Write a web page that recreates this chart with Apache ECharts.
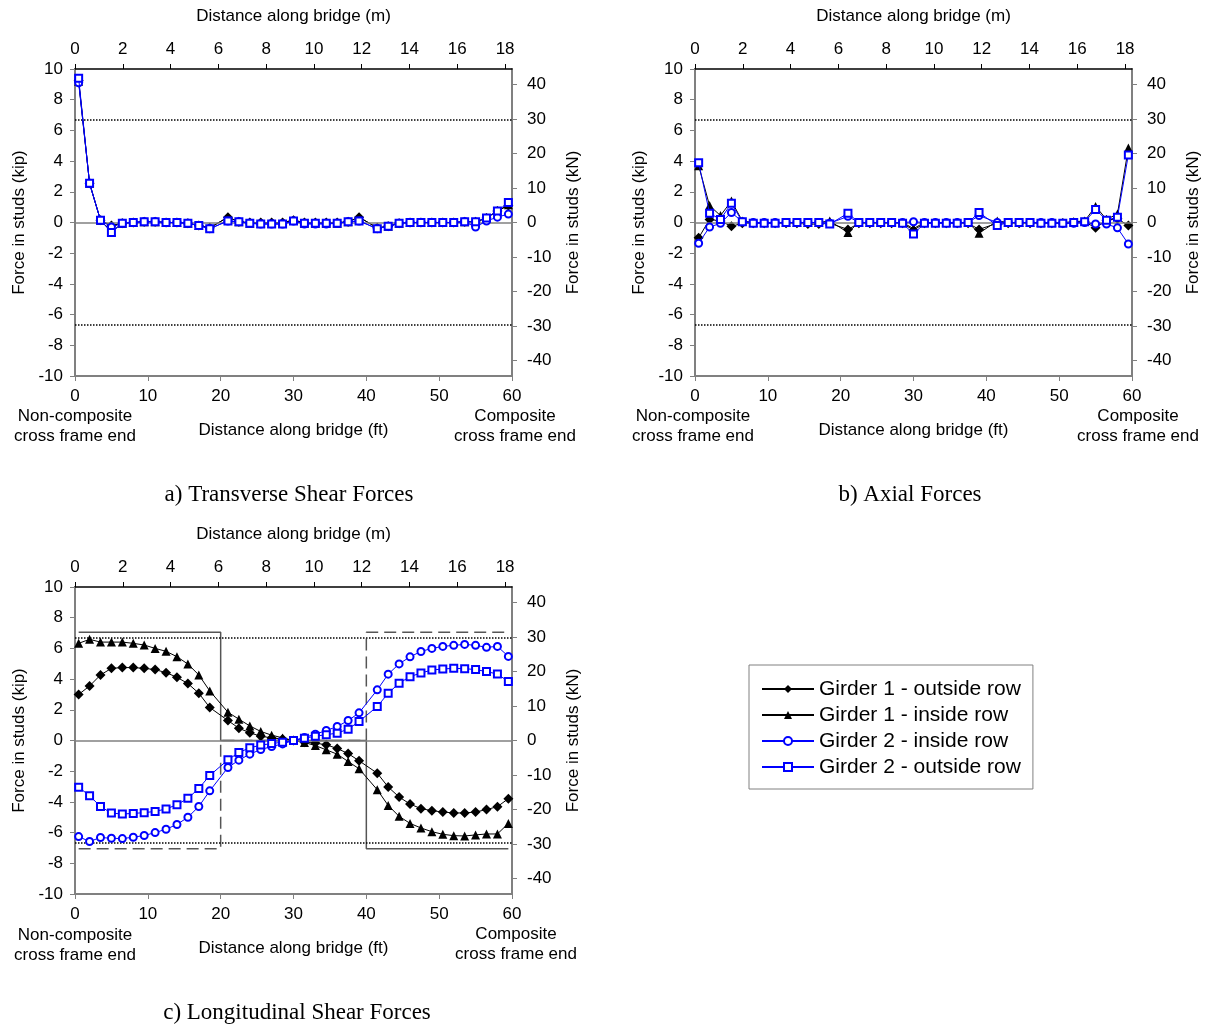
<!DOCTYPE html>
<html>
<head>
<meta charset="utf-8">
<title>Stud forces along bridge</title>
<script src="https://cdn.jsdelivr.net/npm/echarts@6/dist/echarts.min.js"></script>
<style>
  html, body { margin: 0; padding: 0; background: #fff; }
  #chart { width: 1209px; height: 1028px; }
</style>
</head>
<body>
<div id="chart"></div>
<script>
// stud locations (ft) - same for all three panels
const stations = [0.5, 2, 3.5, 5, 6.5, 8, 9.5, 11, 12.5, 14, 15.5, 17, 18.5,
  21, 22.5, 24, 25.5, 27, 28.5, 30, 31.5, 33, 34.5, 36, 37.5, 39,
  41.5, 43, 44.5, 46, 47.5, 49, 50.5, 52, 53.5, 55, 56.5, 58, 59.5];

const seriesNames = ["Girder 1 - outside row", "Girder 1 - inside row",
  "Girder 2 - inside row", "Girder 2 - outside row"];

// a) transverse shear (kip)
const transG1Out = [9.25, 2.55, 0.15, -0.2, -0.05, 0, 0.05, 0.05, 0, 0, -0.05, -0.2, -0.35,
  0.35, 0.05, 0, 0, 0, 0, 0.15, 0, 0, 0, 0, 0.05, 0.35,
  -0.35, -0.25, -0.05, 0, 0, 0, 0, 0, 0.05, 0.05, 0.3, 0.75, 1.1];
const transG1In = [9.2, 2.55, 0.15, -0.6, -0.05, 0, 0.05, 0.05, 0, 0, -0.05, -0.2, -0.35,
  0.35, 0.05, -0.05, -0.05, -0.05, -0.05, 0.15, -0.05, -0.05, -0.05, -0.05, 0.05, 0.35,
  -0.35, -0.25, -0.05, 0, 0, 0, 0, 0, 0.05, 0, 0.3, 0.75, 1.15];
const transG2In = [9.1, 2.55, 0.15, -0.3, -0.05, 0, 0.05, 0.05, 0, 0, -0.05, -0.2, -0.4,
  0.1, 0.05, -0.05, -0.1, -0.1, -0.1, 0.1, -0.1, -0.1, -0.1, -0.05, 0.05, 0.1,
  -0.4, -0.25, -0.05, 0, 0, 0, 0, 0, 0.05, -0.3, 0.1, 0.35, 0.55];
const transG2Out = [9.4, 2.55, 0.15, -0.65, -0.05, 0, 0.05, 0.05, 0, 0, -0.05, -0.2, -0.4,
  0.1, 0.05, -0.05, -0.1, -0.1, -0.1, 0.1, -0.05, -0.05, -0.05, -0.05, 0.05, 0.1,
  -0.4, -0.25, -0.05, 0, 0, 0, 0, 0, 0.05, 0.05, 0.3, 0.75, 1.3];

// b) axial (kip)
const axialG1Out = [-1.0, 0.2, 0.1, -0.25, -0.05, -0.05, -0.05, -0.05, -0.05, -0.05, -0.1, -0.1, -0.05,
  -0.45, -0.05, -0.05, -0.05, -0.05, -0.05, -0.5, -0.05, -0.05, -0.05, -0.05, -0.05, -0.45,
  -0.05, -0.05, -0.05, -0.05, -0.05, -0.05, -0.05, 0, 0.05, -0.35, 0.15, 0.25, -0.2];
const axialG1In = [3.7, 1.1, 0.45, 1.4, 0.1, 0, 0, 0, 0, 0, 0, 0, 0.1,
  -0.65, 0, 0, 0, 0, 0, -0.4, 0, 0, 0, 0, 0, -0.7,
  0.1, 0, 0, 0, 0, 0, 0, 0.05, 0.1, 1.05, 0.2, 0.55, 4.85];
const axialG2In = [-1.35, -0.3, -0.05, 0.65, 0.05, 0, 0, 0, 0, 0, 0, 0, -0.05,
  0.4, 0, 0, 0, 0, 0, 0.05, 0, 0, 0, 0, 0, 0.45,
  0, 0, 0, 0, 0, 0, -0.05, -0.05, 0, -0.1, -0.1, -0.35, -1.4];
const axialG2Out = [3.9, 0.6, 0.2, 1.25, 0.05, -0.05, -0.05, -0.05, 0, 0, 0, 0, -0.1,
  0.6, 0, 0, 0, 0, -0.05, -0.75, -0.05, -0.05, -0.05, -0.05, 0, 0.65,
  -0.2, 0, 0, 0, -0.05, -0.05, -0.05, 0, 0.05, 0.85, 0.15, 0.35, 4.4];

// c) longitudinal shear (kip)
const longG1Out = [3.0, 3.55, 4.27, 4.7, 4.75, 4.75, 4.7, 4.62, 4.42, 4.12, 3.71, 3.08, 2.15,
  1.3, 0.8, 0.5, 0.28, 0.17, 0.09, 0, -0.11, -0.17, -0.28, -0.52, -0.85, -1.32,
  -2.13, -3.03, -3.68, -4.14, -4.44, -4.57, -4.66, -4.72, -4.72, -4.66, -4.5, -4.31, -3.79];
const longG1In = [6.33, 6.59, 6.41, 6.41, 6.41, 6.33, 6.22, 6.0, 5.81, 5.46, 4.98, 4.27, 3.23,
  1.84, 1.39, 0.95, 0.59, 0.35, 0.17, 0, -0.13, -0.33, -0.61, -0.89, -1.37, -1.84,
  -3.21, -4.23, -4.94, -5.4, -5.7, -5.94, -6.11, -6.2, -6.22, -6.15, -6.09, -6.09, -5.4];
const longG2In = [-6.26, -6.58, -6.32, -6.37, -6.39, -6.3, -6.19, -6.0, -5.78, -5.47, -5.0, -4.3, -3.28,
  -1.76, -1.28, -0.89, -0.59, -0.39, -0.22, 0, 0.2, 0.41, 0.65, 0.91, 1.3, 1.8,
  3.3, 4.32, 4.99, 5.45, 5.8, 6.0, 6.13, 6.2, 6.26, 6.2, 6.07, 6.13, 5.48];
const longG2Out = [-3.04, -3.6, -4.3, -4.73, -4.79, -4.75, -4.7, -4.62, -4.46, -4.18, -3.77, -3.12, -2.28,
  -1.26, -0.78, -0.48, -0.3, -0.2, -0.11, 0, 0.15, 0.28, 0.38, 0.48, 0.74, 1.24,
  2.21, 3.08, 3.73, 4.16, 4.4, 4.59, 4.66, 4.7, 4.68, 4.62, 4.49, 4.33, 3.84];

// boxes drawn on panel c (ft, kip)
const boxSolid = [[0.5, 7.05], [20, 7.05], [20, 0], [40, 0], [40, -7.05], [59.5, -7.05]];
const boxDashed = [[0.5, -7.05], [20, -7.05], [20, 0], [40, 0], [40, 7.05], [59.5, 7.05]];

// capacity limit (kip) and tick values
const limitKip = 6.67;
const meterTicks = [0, 2, 4, 6, 8, 10, 12, 14, 16, 18];
const kNTicks = [-40, -30, -20, -10, 0, 10, 20, 30, 40];

const KIP_TO_KN = 4.448222;
const FT_TO_M = 0.3048;

const FONT = "'Liberation Sans', Arial, sans-serif";
const GRAY = "#808080";

const grids = [
  { left: 75, top: 69, width: 437, height: 307 },
  { left: 695, top: 69, width: 437, height: 307 },
  { left: 75, top: 587, width: 437, height: 307 },
];

const styles = [
  { color: "#000", symbol: "diamond", symbolSize: 10 },
  { color: "#000", symbol: "triangle", symbolSize: 9 },
  { color: "#0000ff", symbol: "emptyCircle", symbolSize: 7 },
  { color: "#0000ff", symbol: "emptyRect", symbolSize: 7 },
];

const panels = [
  [transG1Out, transG1In, transG2In, transG2Out],
  [axialG1Out, axialG1In, axialG2In, axialG2Out],
  [longG1Out, longG1In, longG2In, longG2Out],
];

const labelStyle = { color: "#000", fontSize: 17, fontFamily: FONT };

let xAxes = [];
let yAxes = [];
let series = [];

grids.forEach((g, i) => {
  xAxes.push({
    type: "value", gridIndex: i, position: "bottom",
    min: 0, max: 60, interval: 10,
    name: "Distance along bridge (ft)", nameLocation: "middle", nameGap: 46,
    nameTextStyle: labelStyle,
    axisLine: { onZero: false, lineStyle: { color: GRAY, width: 2 } },
    axisTick: { length: 5, lineStyle: { color: GRAY } },
    axisLabel: Object.assign({ margin: 12 }, labelStyle),
    splitLine: { show: false },
  });
  xAxes.push({
    type: "value", gridIndex: i, position: "top",
    min: 0, max: 60 * FT_TO_M,
    name: "Distance along bridge (m)", nameLocation: "middle", nameGap: 44,
    nameTextStyle: labelStyle,
    axisLine: { onZero: false, lineStyle: { color: "#000", width: 1.5 } },
    axisTick: { length: 5, customValues: meterTicks, lineStyle: { color: "#000" } },
    axisLabel: Object.assign({ margin: 11, customValues: meterTicks }, labelStyle),
    splitLine: { show: false },
  });
  yAxes.push({
    type: "value", gridIndex: i, position: "left",
    min: -10, max: 10, interval: 2,
    name: "Force in studs (kip)", nameLocation: "middle", nameGap: 47,
    nameTextStyle: labelStyle,
    axisLine: { onZero: false, lineStyle: { color: GRAY, width: 2 } },
    axisTick: { length: 5, lineStyle: { color: GRAY } },
    axisLabel: Object.assign({ margin: 12 }, labelStyle),
    splitLine: { show: false },
  });
  yAxes.push({
    type: "value", gridIndex: i, position: "right",
    min: -10 * KIP_TO_KN, max: 10 * KIP_TO_KN,
    name: "Force in studs (kN)", nameLocation: "middle", nameGap: 53,
    nameTextStyle: labelStyle,
    axisLine: { onZero: false, lineStyle: { color: GRAY, width: 2 } },
    axisTick: { length: 5, customValues: kNTicks, lineStyle: { color: GRAY } },
    axisLabel: Object.assign({ margin: 15, customValues: kNTicks }, labelStyle),
    splitLine: { show: false },
  });

  panels[i].forEach((vals, k) => {
    const s = styles[k];
    const item = {
      name: seriesNames[k],
      type: "line",
      xAxisIndex: 2 * i, yAxisIndex: 2 * i,
      data: stations.map((x, j) => [x, vals[j]]),
      symbol: s.symbol, symbolSize: s.symbolSize,
      itemStyle: { color: s.color, borderWidth: 1 },
      lineStyle: { color: s.color, width: 1 },
      z: 3 + k,
    };
    if (k === 0) {
      item.markLine = {
        silent: true, symbol: ["none", "none"], label: { show: false },
        lineStyle: { color: "#000", type: "dotted", width: 1.5 },
        data: [
          { yAxis: limitKip },
          { yAxis: -limitKip },
          { yAxis: 0, lineStyle: { color: GRAY, type: "solid", width: 1.5 } },
        ],
      };
    }
    series.push(item);
  });
});

// boxes on panel c
series.push({
  name: "box-solid", type: "line", xAxisIndex: 4, yAxisIndex: 4,
  data: boxSolid, symbol: "none",
  lineStyle: { color: "#555", width: 1.5 }, z: 2,
});
series.push({
  name: "box-dashed", type: "line", xAxisIndex: 4, yAxisIndex: 4,
  data: boxDashed, symbol: "none",
  lineStyle: { color: "#555", width: 1.5, type: [12, 6] }, z: 2,
});

const smallText = (text, x, y) => ({
  type: "text", x: x, y: y,
  style: { text: text, font: "17px " + FONT, fill: "#000", align: "center", verticalAlign: "middle", lineHeight: 20 },
});
const caption = (text, x, y) => ({
  type: "text", x: x, y: y,
  style: { text: text, font: "23px 'Liberation Serif', 'Times New Roman', serif", fill: "#000", align: "center", verticalAlign: "middle" },
});

const chart = echarts.init(document.getElementById("chart"), null, { renderer: "canvas" });
chart.setOption({
  animation: false,
  backgroundColor: "#fff",
  grid: grids,
  xAxis: xAxes,
  yAxis: yAxes,
  series: series,
  legend: {
    data: seriesNames,
    orient: "vertical",
    left: 749, top: 665,
    padding: [13, 12, 11, 12],
    itemWidth: 52, itemHeight: 10, itemGap: 4,
    borderColor: GRAY, borderWidth: 1,
    selectedMode: false,
    textStyle: { color: "#000", fontSize: 21, fontFamily: FONT, lineHeight: 22 },
  },
  graphic: [
    smallText("Non-composite\ncross frame end", 75, 426),
    smallText("Composite\ncross frame end", 515, 426),
    smallText("Non-composite\ncross frame end", 693, 426),
    smallText("Composite\ncross frame end", 1138, 426),
    smallText("Non-composite\ncross frame end", 75, 945),
    smallText("Composite\ncross frame end", 516, 944),
    caption("a) Transverse Shear Forces", 289, 495),
    caption("b) Axial Forces", 910, 495),
    caption("c) Longitudinal Shear Forces", 297, 1013),
  ],
});
</script>
</body>
</html>
